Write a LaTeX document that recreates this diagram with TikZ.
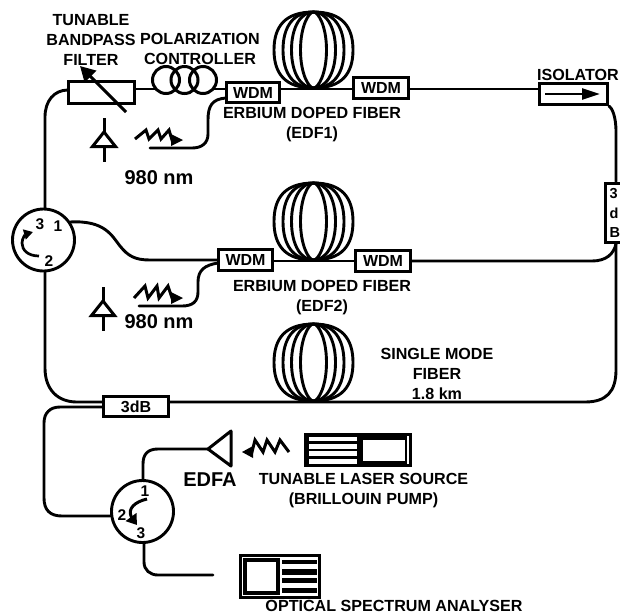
\documentclass[tikz,border=0pt]{standalone}
\usepackage{fontspec}
\setmainfont{Liberation Sans}
\usetikzlibrary{arrows.meta}
\tikzset{
 fib/.style={line width=2.9pt,line cap=round},
 box/.style={draw,line width=3pt,fill=white,inner sep=0pt,font=\fontsize{16}{16}\bfseries\selectfont},
 lbl/.style={inner sep=0pt,align=center,font=\fontsize{16.1}{20}\bfseries\selectfont},
 big/.style={inner sep=0pt,font=\fontsize{20}{20}\bfseries\selectfont},
 num/.style={inner sep=0pt,font=\fontsize{15.5}{15}\bfseries\selectfont},
 circul/.style={draw,circle,line width=2.9pt,minimum size=62pt,inner sep=0pt,fill=white},
 saw/.style={line width=3pt,line join=miter},
}
\newcommand{\fibcoil}[3]{%
 \pgfmathsetmacro{\cyy}{(#2+#3)/2}\pgfmathsetmacro{\ryy}{(#3-#2)/2}%
 \foreach \rr/\kk in {39.5/.72,30.5/.66,22/.56,13/.38}{%
  \draw[line width=2.9pt]
   (#1,#2) .. controls ({#1+\kk*\rr},#2) and ({#1+\rr},{\cyy-.62*\ryy}) .. ({#1+\rr},\cyy)
   .. controls ({#1+\rr},{\cyy+.62*\ryy}) and ({#1+\kk*\rr},#3) .. (#1,#3)
   .. controls ({#1-\kk*\rr},#3) and ({#1-\rr},{\cyy+.62*\ryy}) .. ({#1-\rr},\cyy)
   .. controls ({#1-\rr},{\cyy-.62*\ryy}) and ({#1-\kk*\rr},#2) .. (#1,#2) -- cycle;
 }}
\newcommand{\detector}[2]{%
 \draw[line width=3pt] (#1,#2) -- ++(0,15);
 \draw[line width=3pt,line join=miter] (#1,{#2+14}) -- ++(-11.5,14.5) -- ++(23,0) -- cycle;
 \draw[line width=3pt] (#1,{#2+28}) -- ++(0,16);}
\begin{document}
\begin{tikzpicture}[x=1pt,y=-1pt]
\useasboundingbox (0,0) rectangle (620,614);
% coils
\fibcoil{313.5}{12}{88}
\fibcoil{313.5}{183}{260}
\fibcoil{313.5}{324}{401}
% components
\node[box,minimum width=66pt,minimum height=22pt] (tbf) at (101.5,92.5) {};
\node[box,minimum width=53pt,minimum height=20pt] (wa) at (253,92.5) {\raisebox{-2pt}{WDM}};
\node[box,minimum width=55pt,minimum height=21pt] (wb) at (381,88) {\raisebox{-2pt}{WDM}};
\node[box,minimum width=68pt,minimum height=21pt] (iso) at (573.5,94) {};
\node[box,minimum width=54pt,minimum height=21pt] (wc) at (245.5,260) {\raisebox{-2pt}{WDM}};
\node[box,minimum width=55pt,minimum height=21pt] (wd) at (383,261) {\raisebox{-2pt}{WDM}};
\node[box,minimum width=65pt,minimum height=20pt] (cp) at (136,406.5) {3dB};
\node[box,minimum width=36pt,minimum height=59pt] (cq) at (623,212.5) {};
\node[circul] (ca) at (43.5,240) {};
\node[circul] (cb) at (142.5,511.5) {};
\coordinate (tbfin) at (68,90);
\coordinate (wap) at (226,98);
\coordinate (wcp) at (218,263);
\coordinate (wcq) at (218,260);
\coordinate (cpa) at (103,402);
\coordinate (cpb) at (103,407);
\coordinate (cpc) at (169,402);
\coordinate (lasera) at (150,148);
\coordinate (laserb) at (139,306);
\coordinate (osain) at (213,575);
% connectors
\draw[fib] (tbf.east|-0,89) -- (wa.west|-0,89);
\draw[fib] (wa.east|-0,89) -- (wb.west|-0,89);
\draw[fib] (wb.east|-0,89) -- (iso.west|-0,89);
\draw[fib] (wc.east|-0,261) -- (wd.west|-0,261);
\draw[fib] (wd.east|-0,261) -- (592,261) .. controls (606,261) and (614,254) .. (cq.south-|616,0);
\draw[fib] (cq.south-|616,0) -- (616,370) .. controls (616,392) and (606,402) .. (585,402) -- (cpc);
\draw[fib] (iso.south east) .. controls (612,108) and (616,116) .. (616,132) -- (cq.north-|616,0);
\draw[fib] (ca.north-|45,0) -- (45,117) .. controls (45,101) and (54,90) .. (tbfin);
\draw[fib] (ca.south-|45,0) -- (45,368) .. controls (45,390) and (58,402) .. (77,402) -- (cpa);
\draw[fib] (70,222) .. controls (105,220) and (112,236) .. (120,246) .. controls (128,256) and (135,260) .. (150,260) -- (wcq);
\draw[fib] (wap) .. controls (212,99) and (208,106) .. (208,120) -- (208,134) .. controls (208,143) and (202,148) .. (192,148) -- (lasera);
\draw[fib] (wcp) .. controls (205,265) and (198,270) .. (198,282) -- (198,292) .. controls (198,302) and (192,306) .. (182,306) -- (laserb);
\draw[fib] (cpb) -- (60,407) .. controls (50,407) and (44,413) .. (44,423) -- (44,498) .. controls (44,510) and (50,516) .. (62,516) -- (cb.west|-0,516);
\draw[fib] (cb.north-|143,0) -- (143,464) .. controls (143,454) and (148,449) .. (158,449) -- (208,449);
\draw[fib] (cb.south-|144,0) -- (144,562) .. controls (144,570) and (150,575) .. (158,575) -- (osain);
% filter arrow
\draw[line width=3pt,-{Triangle[length=15pt,width=16pt]}] (126,112) -- (80,66);
% pol controller
\foreach \x in {166,184.5,203}{\fill[white] (\x,80) circle (13.5);}
\foreach \x in {166,184.5,203}{\draw[line width=3pt] (\x,80) circle (13.5);}
% isolator arrow
\draw[line width=2.4pt,-{Triangle[length=18pt,width=11pt]}] (545,94) -- (600,94);
% detectors
\detector{104}{118}
\detector{103}{287}
% saw lasers
\draw[saw] (135,139) -- (146,130) -- (149,139) -- (158,130) -- (161,139) -- (169,130) -- (172,140) -- (176,140);
\fill (171,134) -- (183,140) -- (171,146) -- cycle;
\draw[saw] (134,298) -- (145,286) -- (148,298) -- (157,286) -- (159,298) -- (168,286) -- (172,298) -- (176,298);
\fill (171,292) -- (183,298) -- (171,304) -- cycle;
\draw[saw] (289,452) -- (280,440) -- (275,452) -- (267,440) -- (263,452) -- (255,440) -- (252,452) -- (248,452);
\fill (253,446) -- (242,452) -- (253,458) -- cycle;
% EDFA
\draw[line width=3pt,line join=round] (208,449) -- (231,431) -- (231,466) -- cycle;
% laser source instrument
\fill (304,433) rectangle (412,467);
\foreach \a/\b in {436.5/441,443.5/448.5,451/456,458.5/463.5}{\fill[white] (309,\a) rectangle (357,\b);}
\fill[white] (363,439.5) rectangle (404.5,460.5);
\fill[white] (406.5,436) rectangle (408.5,464);
% OSA
\fill (239,554) rectangle (321,599);
\fill[white] (242,557) rectangle (318,596);
\fill (243,558) rectangle (280,595);
\fill[white] (247,562) rectangle (276,591);
\foreach \a/\b in {559.5/564,569/575,578/583,587.5/593}{\fill (282,\a) rectangle (317,\b);}
% circulator marks
\node[num] (n3a) at (40,224) {3};
\node[num] (n1a) at (58,226) {1};
\node[num] (n2a) at (49,261) {2};
\draw[line width=2.7pt,-{Triangle[length=9pt,width=10pt]}] (39,256) .. controls (28,256) and (22,250) .. (22,243) .. controls (22,238) and (26,234) .. (33,232);
\node[num] (n1b) at (145,491) {1};
\node[num] (n2b) at (122,515) {2};
\node[num] (n3b) at (141,533) {3};
\draw[line width=3pt,-{Triangle[length=10pt,width=13pt]}] (147,499) .. controls (134,502) and (128,509) .. (131,516) .. controls (132,519) and (134,521) .. (137,525);
% labels
\node[lbl] (t1) at (91,40) {TUNABLE\\BANDPASS\\FILTER};
\node[lbl] (t2) at (200,49) {POLARIZATION\\CONTROLLER};
\node[lbl] (t3) at (312,125) {ERBIUM DOPED FIBER\\(EDF1)};
\node[lbl] (t4) at (322,298) {ERBIUM DOPED FIBER\\(EDF2)};
\node[lbl] (t5) at (437,374) {SINGLE MODE\\FIBER\\1.8 km};
\node[lbl] (t6) at (578,75) {ISOLATOR};
\node[lbl] (t7) at (363.5,490.5) {TUNABLE LASER SOURCE\\(BRILLOUIN PUMP)};
\node[lbl] (t8) at (394,606) {OPTICAL SPECTRUM ANALYSER};
\node[big] (e1) at (159,178) {980 nm};
\node[big] (e2) at (159,322) {980 nm};
\node[big] (e3) at (210,480) {EDFA};
\node[num,align=left,anchor=west,font=\fontsize{14.5}{19.5}\bfseries\selectfont] (q) at (609.5,213) {3\\d\\B};
\end{tikzpicture}
\end{document}
